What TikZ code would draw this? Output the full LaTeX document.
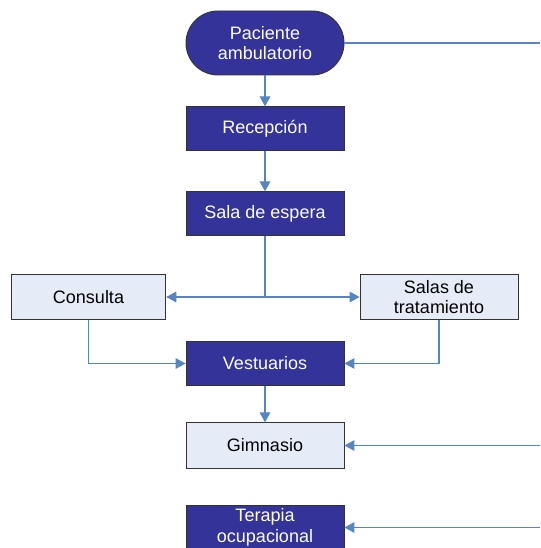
\documentclass[tikz,border=0pt]{standalone}
\usepackage{fontspec}
\setmainfont{Liberation Sans}
\usetikzlibrary{positioning}
\usetikzlibrary{arrows.meta}

\definecolor{darkbox}{HTML}{333399}
\definecolor{lightbox}{HTML}{E6ECF7}
\definecolor{linkblue}{HTML}{5685C4}

\tikzset{
  box/.style={draw=black!80, line width=0.7pt, minimum width=118.5pt, minimum height=32.5pt,
    align=center, inner sep=1pt, font=\fontsize{13.5}{15.5}\selectfont},
  darkbox/.style={box, fill=darkbox, text=white},
  lightbox/.style={box, fill=lightbox, text=black},
  link/.style={draw=linkblue, line width=0.8pt},
  arrowlink/.style={link, -{Triangle[width=8pt,length=7.5pt]}}
}

\begin{document}
\begin{tikzpicture}[x=0.75pt,y=-0.75pt]
\useasboundingbox (0,0) rectangle (540,548);
\clip (0,0) rectangle (540,548);
\coordinate (e1) at (540,43);
\coordinate (e2) at (540,445.5);
\coordinate (e3) at (540,527.5);
\coordinate (split) at (265,297);

  \node (paciente) at (265,43) [darkbox,minimum height=48pt,rounded corners=24pt] {Paciente\\ambulatorio};
  \node (recepcion) at (265,128.5) [darkbox] {Recepción};
  \node (sala) at (265,213.5) [darkbox] {Sala de espera};
  \node (consulta) at (88.5,297) [lightbox,minimum width=116pt,minimum height=34pt] {Consulta};
  \node (salas) at (439,297) [lightbox,minimum height=34pt] {Salas de\\tratamiento};
  \node (vestuarios) at (265,363.5) [darkbox] {Vestuarios};
  \node (gimnasio) at (265,445.5) [lightbox,minimum height=34pt] {Gimnasio};
  \node (terapia) at (265,527.5) [darkbox] {Terapia\\ocupacional};

  \draw[link] (paciente) -- (e1);
  \draw[arrowlink] (paciente) -- (recepcion);
  \draw[arrowlink] (recepcion) -- (sala);
  \draw[link] (sala) -- (split);
  \draw[arrowlink] (split) -- (consulta);
  \draw[arrowlink] (split) -- (salas);
  \draw[arrowlink] (consulta.south) |- (vestuarios.west);
  \draw[arrowlink] (salas.south) |- (vestuarios.east);
  \draw[arrowlink] (vestuarios) -- (gimnasio);
  \draw[arrowlink] (e2) -- (gimnasio);
  \draw[arrowlink] (e3) -- (terapia);
\end{tikzpicture}
\end{document}
